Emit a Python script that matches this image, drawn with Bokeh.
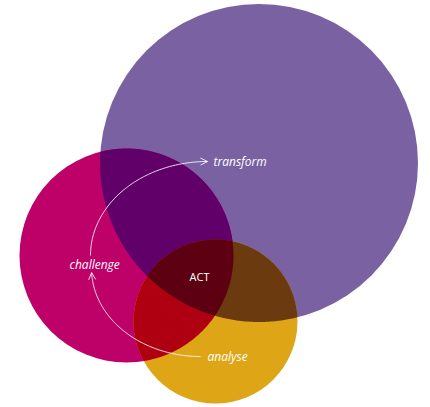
import numpy as np
from bokeh.plotting import figure
from bokeh.models import Range1d, Arrow, OpenHead
from bokeh.core.properties import value
from bokeh.embed import file_html
from bokeh.resources import INLINE

# ---- data ----
circle_names = ["transform", "challenge", "analyse"]
circle_x = [258.5, 126.0, 215.0]
circle_y = [162.5, 255.0, 321.0]
circle_r = [159.0, 107.0, 82.0]
circle_colors = ["#7A62A2", "#BE0069", "#DEA517"]

pair_index = [(0, 1), (1, 2), (0, 2)]
pair_colors = ["#610069", "#AF0011", "#6B3A0F"]
triple_color = "#5D0011"

labels = ["transform", "challenge", "analyse"]
center_label = "ACT"

# cycle arrows (ellipse arcs): centre, semi-axes, start/end angle
arc_cx = [207.0, 200.0]
arc_cy = [255.0, 268.0]
arc_a = [117.0, 109.0]
arc_b = [94.0, 88.0]
arc_t0 = [np.pi * 1.0, np.pi * 0.5]
arc_t1 = [np.pi * 1.5, np.pi * 0.985]


def circle_poly(i, n=360):
    t = np.linspace(0, 2 * np.pi, n, endpoint=False)
    return [(circle_x[i] + circle_r[i] * np.cos(a), circle_y[i] + circle_r[i] * np.sin(a)) for a in t]


def signed_area(poly):
    s = 0.0
    for i in range(len(poly)):
        x1, y1 = poly[i - 1]
        x2, y2 = poly[i]
        s += x1 * y2 - x2 * y1
    return s


def clip(subject, clipper):
    sign = 1.0 if signed_area(clipper) > 0 else -1.0

    def side(a, b, p):
        return ((b[0] - a[0]) * (p[1] - a[1]) - (b[1] - a[1]) * (p[0] - a[0])) * sign >= 0

    def inter(s, e, a, b):
        d1 = (e[0] - s[0], e[1] - s[1])
        d2 = (b[0] - a[0], b[1] - a[1])
        den = d1[0] * d2[1] - d1[1] * d2[0]
        if den == 0:
            return e
        t = ((a[0] - s[0]) * d2[1] - (a[1] - s[1]) * d2[0]) / den
        return (s[0] + t * d1[0], s[1] + t * d1[1])

    out = list(subject)
    for i in range(len(clipper)):
        a = clipper[i - 1]
        b = clipper[i]
        inp = out
        out = []
        if not inp:
            break
        s = inp[-1]
        for e in inp:
            ein = side(a, b, e)
            sin_ = side(a, b, s)
            if ein:
                if not sin_:
                    out.append(inter(s, e, a, b))
                out.append(e)
            elif sin_:
                out.append(inter(s, e, a, b))
            s = e
    return out


W, H = 430, 407

p = figure(width=W, height=H, output_backend="svg", toolbar_location=None,
           x_range=Range1d(0, W), y_range=Range1d(H, 0), min_border=0)
p.axis.visible = False
p.grid.visible = False
p.outline_line_color = None
p.background_fill_color = "white"
p.border_fill_color = "white"

# base circles
p.circle(x=circle_x, y=circle_y, radius=circle_r, fill_color=circle_colors, line_color=None)

polys = [circle_poly(i, 720) for i in range(3)]
for (i, j), col in zip(pair_index, pair_colors):
    reg = clip(polys[i], polys[j])
    if reg:
        p.patch([q[0] for q in reg], [q[1] for q in reg], fill_color=col, line_color=None)

tri = clip(clip(polys[0], polys[1]), polys[2])
if tri:
    p.patch([q[0] for q in tri], [q[1] for q in tri], fill_color=triple_color, line_color=None)

# arrows
for k in range(2):
    t = np.linspace(arc_t0[k], arc_t1[k], 120)
    xs = arc_cx[k] + arc_a[k] * np.cos(t)
    ys = arc_cy[k] + arc_b[k] * np.sin(t)
    p.line(xs, ys, line_color="white", line_width=1, line_alpha=0.85)
    p.add_layout(Arrow(end=OpenHead(size=7, line_color="white", line_width=1, line_alpha=0.85),
                       x_start=xs[-3], y_start=ys[-3], x_end=xs[-1], y_end=ys[-1],
                       line_color="white", line_alpha=0.0))

# labels
label_x = [213, 69, 207]
label_y = [161, 264, 356]
p.text(x=label_x, y=label_y, text=labels, text_font=value("Open Sans"),
       text_font_style="italic", text_font_size="12px", text_color="white",
       text_baseline="middle", text_align="left")
p.text(x=[199], y=[276], text=[center_label], text_font=value("Open Sans"),
       text_font_size="11px", text_color="white", text_baseline="middle", text_align="center")

open("out.html", "w").write(file_html(p, INLINE))
